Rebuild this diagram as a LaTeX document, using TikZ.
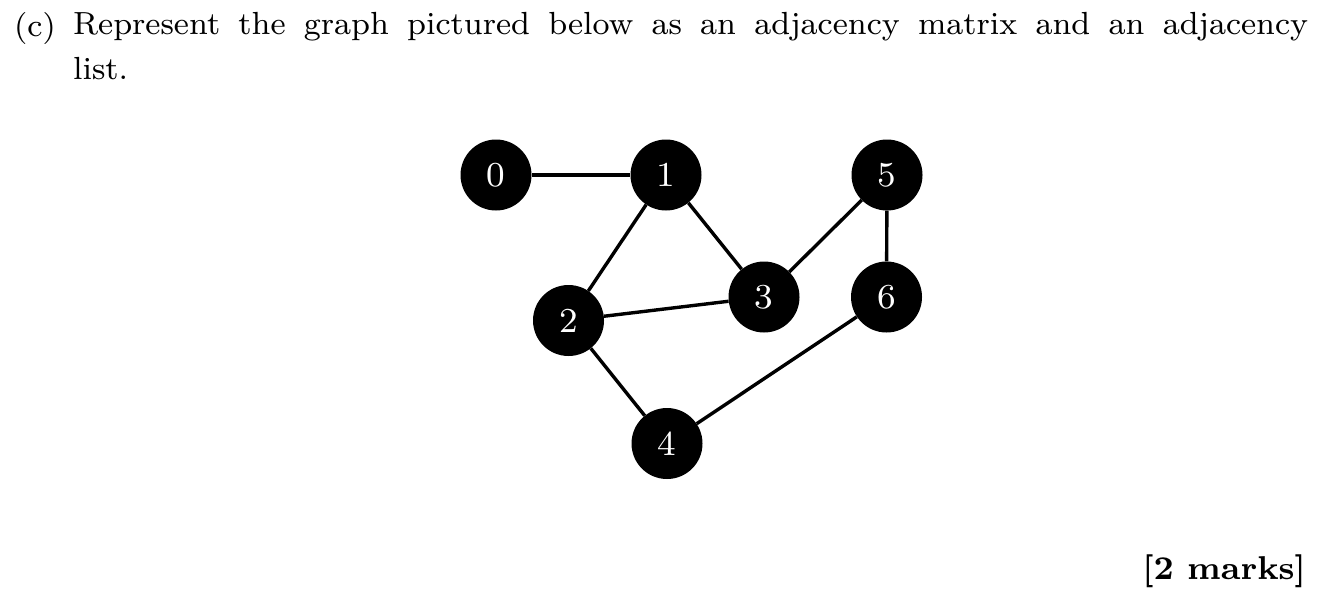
\documentclass[tikz,border=0pt]{standalone}
\usepackage{fontspec}
\setmainfont{lmroman8-regular.otf}[BoldFont=lmroman8-bold.otf]
\begin{document}
\begin{tikzpicture}[x=1pt,y=-1pt,
  vtx/.style={circle,fill=black,text=white,minimum size=71pt,inner sep=0pt,font=\fontsize{35}{40}\selectfont},
  edge/.style={line width=3.4pt},
  qtext/.style={inner sep=0pt,font=\fontsize{32}{45}\selectfont}]
\useasboundingbox (0,0) rectangle (1324,600);
\node[qtext,anchor=base west] (lab) at (14,36) {(c)};
\node[qtext,anchor=north west,text width=1235pt,align=justify] (q) at (73,12)
  {Represent the graph pictured below as an adjacency matrix and an adjacency\linebreak list.};
\node[qtext,anchor=base east,font=\fontsize{33}{45}\selectfont\bfseries] (marks) at (1306,579) {[2 marks]};
\node[vtx] (n0) at (496,175) {0};
\node[vtx] (n1) at (666,175) {1};
\node[vtx] (n5) at (887,175) {5};
\node[vtx] (n2) at (568.5,320.5) {2};
\node[vtx] (n3) at (764,297) {3};
\node[vtx] (n6) at (886.5,297) {6};
\node[vtx] (n4) at (667,443.5) {4};
\draw[edge] (n0) -- (n1);
\draw[edge] (n1) -- (n2);
\draw[edge] (n1) -- (n3);
\draw[edge] (n2) -- (n3);
\draw[edge] (n2) -- (n4);
\draw[edge] (n3) -- (n5);
\draw[edge] (n5) -- (n6);
\draw[edge] (n4) -- (n6);
\end{tikzpicture}
\end{document}
